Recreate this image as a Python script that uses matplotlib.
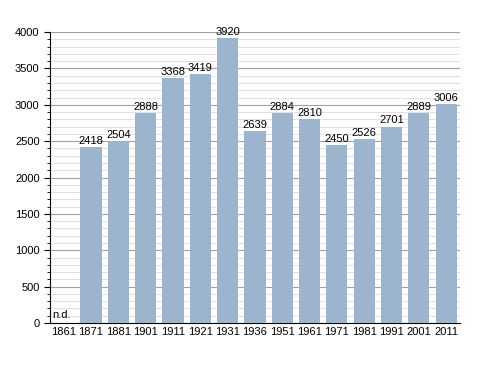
import matplotlib.pyplot as plt
from matplotlib.ticker import MultipleLocator

plt.rcParams['font.family'] = ['Liberation Sans', 'DejaVu Sans']

years = ['1861', '1871', '1881', '1901', '1911', '1921', '1931', '1936',
         '1951', '1961', '1971', '1981', '1991', '2001', '2011']
population = [0, 2418, 2504, 2888, 3368, 3419, 3920, 2639,
              2884, 2810, 2450, 2526, 2701, 2889, 3006]

fig = plt.figure(figsize=(4.88, 3.73), dpi=100)
ax = fig.add_axes([0.1025, 0.134, 0.84, 0.78])

x = range(len(years))
ax.bar(x, population, width=0.77, color='#9cb4cd', zorder=3)

for i, v in enumerate(population):
    if v == 0:
        ax.text(i - 0.42, 40, 'n.d.', ha='left', va='bottom', fontsize=8, zorder=4)
    else:
        ax.text(i, v + 15, str(v), ha='center', va='bottom', fontsize=8, zorder=4)

ax.set_xlim(-0.5, len(years) - 0.5)
ax.set_ylim(0, 4000)
ax.set_xticks(list(x))
ax.set_xticklabels(years, fontsize=8)
ax.yaxis.set_major_locator(MultipleLocator(500))
ax.yaxis.set_minor_locator(MultipleLocator(100))
ax.tick_params(axis='y', labelsize=8, length=4, width=0.8)
ax.tick_params(axis='y', which='minor', length=2, width=0.6)
ax.tick_params(axis='x', length=0, pad=3)

ax.grid(axis='y', which='major', color='#a0a0a0', linewidth=0.8, zorder=0)
ax.grid(axis='y', which='minor', color='#dcdcdc', linewidth=0.6, zorder=0)

for s in ['top', 'right']:
    ax.spines[s].set_visible(False)
ax.spines['left'].set_linewidth(0.8)
ax.spines['bottom'].set_linewidth(0.8)

fig.savefig('out.png', dpi=100)
